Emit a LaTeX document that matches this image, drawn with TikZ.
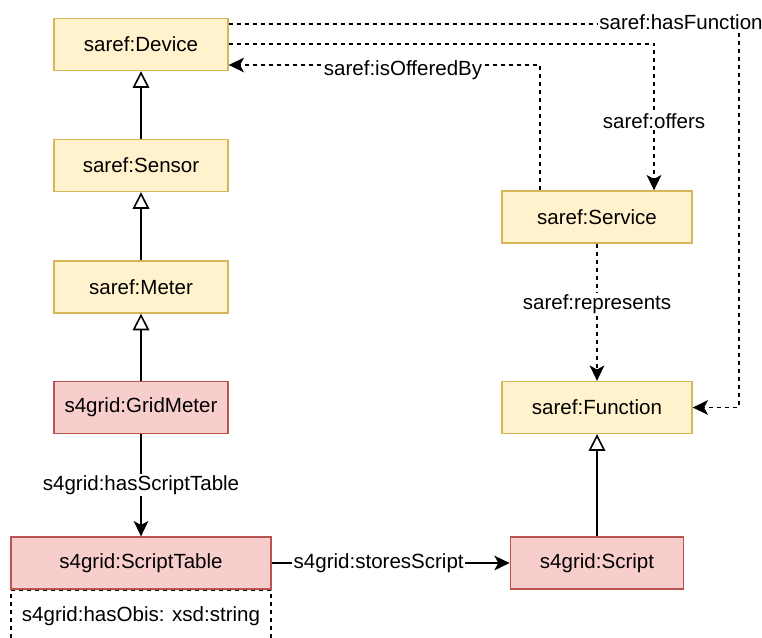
\documentclass[tikz,border=0pt]{standalone}
\usepackage{fontspec}
\setmainfont{Liberation Sans}
\usetikzlibrary{math,arrows.meta}

\definecolor{sarefFill}{HTML}{FFF2CC}
\definecolor{sarefLine}{HTML}{D6B656}
\definecolor{gridFill}{HTML}{F8CECC}
\definecolor{gridLine}{HTML}{B85450}

\tikzset{
  classbox/.style={draw,line width=1pt,minimum height=39pt,inner sep=0pt},
  sarefbox/.style={classbox,fill=sarefFill,draw=sarefLine},
  gridbox/.style={classbox,fill=gridFill,draw=gridLine},
  attrbox/.style={draw,dashed,line width=1.1pt,dash pattern=on 3pt off 3pt,minimum height=39pt,inner sep=0pt},
  isa/.style={line width=1.2pt,-{Triangle[open,length=12.5pt,width=12.5pt]}},
  rel/.style={line width=1.2pt,-{Stealth[length=11.5pt,width=11pt,inset=3pt]}},
  dashrel/.style={rel,dash pattern=on 3pt off 3pt},
  lbl/.style={fill=white,inner sep=1pt}
}

\begin{document}
\begin{tikzpicture}[x=0.75pt,y=-0.75pt,font=\fontsize{15.4}{18}\selectfont]
  \tikzmath{
    real \lx,\rx,\yDev,\ySen,\yMet,\yGrid,\yTab,\ySrv;
    \lx=141;
    \rx=597;
    \yDev=44.5;
    \ySen=165.5;
    \yMet=287;
    \yGrid=407.5;
    \yTab=563;
    \ySrv=217;
  }
  \useasboundingbox (0,0) rectangle (762,637);

  \node[sarefbox,minimum width=130.5pt] (device) at (\lx,\yDev) {saref:Device};
  \node[sarefbox,minimum width=130.5pt] (sensor) at (\lx,\ySen) {saref:Sensor};
  \node[sarefbox,minimum width=130.5pt] (meter) at (\lx,\yMet) {saref:Meter};
  \node[gridbox,minimum width=130.5pt] (gridmeter) at (\lx,\yGrid) {s4grid:GridMeter};
  \node[gridbox,minimum width=195pt] (table) at (\lx,\yTab) {s4grid:ScriptTable};
  \node[attrbox,minimum width=195pt,anchor=north] (obis) at (table.south) {s4grid:hasObis: xsd:string};
  \node[sarefbox,minimum width=142.5pt] (service) at (\rx,\ySrv) {saref:Service};
  \node[sarefbox,minimum width=142.5pt] (function) at (\rx,\yGrid) {saref:Function};
  \node[gridbox,minimum width=130pt] (script) at (\rx,\yTab) {s4grid:Script};

  \coordinate (funTurn) at (739,23.7);
  \coordinate (offTurn) at (654,43.7);
  \coordinate (srvTurn) at (540,65);

  \draw[isa] (sensor) -- (device);
  \draw[isa] (meter) -- (sensor);
  \draw[isa] (gridmeter) -- (meter);
  \draw[isa] (script) -- (function);

  \draw[rel] (gridmeter) -- node[lbl]{s4grid:hasScriptTable} (table);
  \draw[rel] (table) -- node[lbl,xshift=-9pt]{s4grid:storesScript} (script);

  \draw[dashrel] (device.east |- offTurn) -| node[lbl,pos=0.765]{saref:offers} (service.north -| offTurn);
  \draw[dashrel] (service.north -| srvTurn) |- node[lbl,pos=0.72,yshift=-4pt]{saref:isOfferedBy} (device.east |- srvTurn);
  \draw[dashrel] (device.east |- funTurn) -- (funTurn) |- (function.east);
  \node[lbl] (hasfun) at (681,22) {saref:hasFunction};
  \draw[dashrel] (service) -- node[lbl,pos=0.44]{saref:represents} (function);
\end{tikzpicture}
\end{document}
